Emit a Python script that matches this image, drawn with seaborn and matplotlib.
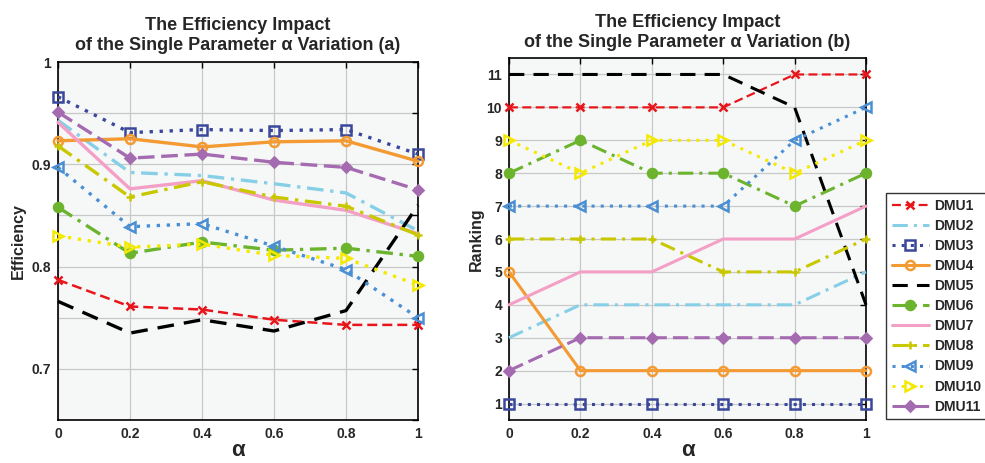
import matplotlib
matplotlib.use("Agg")
import matplotlib.pyplot as plt
import seaborn as sns
import pandas as pd

alpha = [0, 0.2, 0.4, 0.6, 0.8, 1.0]
dmus = ["DMU1", "DMU2", "DMU3", "DMU4", "DMU5", "DMU6",
        "DMU7", "DMU8", "DMU9", "DMU10", "DMU11"]

# efficiency values (panel a)
eff_dmu1 = [0.787, 0.761, 0.758, 0.748, 0.743, 0.743]
eff_dmu2 = [0.943, 0.892, 0.889, 0.881, 0.872, 0.835]
eff_dmu3 = [0.966, 0.931, 0.934, 0.933, 0.934, 0.910]
eff_dmu4 = [0.923, 0.925, 0.917, 0.922, 0.923, 0.903]
eff_dmu5 = [0.766, 0.735, 0.748, 0.737, 0.757, 0.860]
eff_dmu6 = [0.858, 0.813, 0.824, 0.816, 0.818, 0.810]
eff_dmu7 = [0.941, 0.876, 0.884, 0.865, 0.855, 0.832]
eff_dmu8 = [0.918, 0.868, 0.883, 0.868, 0.859, 0.831]
eff_dmu9 = [0.897, 0.839, 0.842, 0.820, 0.797, 0.750]
eff_dmu10 = [0.830, 0.819, 0.822, 0.811, 0.808, 0.782]
eff_dmu11 = [0.951, 0.906, 0.910, 0.902, 0.897, 0.875]

# rankings (panel b)
rank_dmu1 = [10, 10, 10, 10, 11, 11]
rank_dmu2 = [3, 4, 4, 4, 4, 5]
rank_dmu3 = [1, 1, 1, 1, 1, 1]
rank_dmu4 = [5, 2, 2, 2, 2, 2]
rank_dmu5 = [11, 11, 11, 11, 10, 4]
rank_dmu6 = [8, 9, 8, 8, 7, 8]
rank_dmu7 = [4, 5, 5, 6, 6, 7]
rank_dmu8 = [6, 6, 6, 5, 5, 6]
rank_dmu9 = [7, 7, 7, 7, 9, 10]
rank_dmu10 = [9, 8, 9, 9, 8, 9]
rank_dmu11 = [2, 3, 3, 3, 3, 3]

eff = [eff_dmu1, eff_dmu2, eff_dmu3, eff_dmu4, eff_dmu5, eff_dmu6,
       eff_dmu7, eff_dmu8, eff_dmu9, eff_dmu10, eff_dmu11]
rank = [rank_dmu1, rank_dmu2, rank_dmu3, rank_dmu4, rank_dmu5, rank_dmu6,
        rank_dmu7, rank_dmu8, rank_dmu9, rank_dmu10, rank_dmu11]

# style per DMU: color, linestyle, marker, filled
styles = {
    "DMU1": ("#e8151b", (0, (4, 2)), "x", True),
    "DMU2": ("#87cfe6", (0, (5, 2, 1, 2)), None, True),
    "DMU3": ("#3a479b", (0, (1, 2)), "s", False),
    "DMU4": ("#f39a33", "-", "o", False),
    "DMU5": ("#000000", (0, (5, 3)), None, True),
    "DMU6": ("#6cb42e", (0, (5, 2, 1, 2)), "o", True),
    "DMU7": ("#f49fc6", "-", None, True),
    "DMU8": ("#c9c800", (0, (5, 2, 1, 2)), "+", True),
    "DMU9": ("#4a8fd3", (0, (1, 2)), "<", False),
    "DMU10": ("#f4e900", (0, (1, 2)), ">", False),
    "DMU11": ("#a56bb0", (0, (5, 2)), "D", True),
}

sns.set_style("whitegrid")
plt.rcParams["font.family"] = ["Liberation Sans", "DejaVu Sans"]
plt.rcParams["font.weight"] = "bold"

fig = plt.figure(figsize=(9.85, 4.63), dpi=100)
ax1 = fig.add_axes([0.0589, 0.0929, 0.3655, 0.7731])
ax2 = fig.add_axes([0.5168, 0.0929, 0.3624, 0.7818])


def draw(ax, values, lw):
    for name, vals in zip(dmus, values):
        c, ls, mk, filled = styles[name]
        df = pd.DataFrame({"alpha": alpha, "v": vals})
        if mk in ("x", "+"):
            ms = 6
        elif mk == "D":
            ms = 5.5
        else:
            ms = 6.5
        sns.lineplot(data=df, x="alpha", y="v", ax=ax, color=c, linestyle=ls,
                     linewidth=lw if name != "DMU1" else lw - 0.6,
                     marker=mk, markersize=ms,
                     markeredgewidth=1.8, markeredgecolor=c,
                     markerfacecolor=c if filled else "none",
                     label=name, clip_on=False, zorder=3)


draw(ax1, eff, 2.4)
draw(ax2, rank, 2.2)

for ax in (ax1, ax2):
    ax.set_facecolor("#f6f8f8")
    ax.set_xlim(0, 1)
    ax.set_xticks(alpha)
    ax.set_xticklabels(["0", "0.2", "0.4", "0.6", "0.8", "1"])
    ax.grid(True, color="#c8c8c8", linewidth=0.9)
    ax.tick_params(direction="in", length=4, width=1, labelsize=10,
                   top=True, right=True, pad=5, color="black")
    for s in ax.spines.values():
        s.set_color("black")
        s.set_linewidth(1.2)
    ax.set_xlabel("α", fontsize=16, fontweight="bold", labelpad=-1)
    if ax.get_legend() is not None:
        ax.get_legend().remove()

ax1.set_ylim(0.65, 1.0)
ax1.set_yticks([0.65, 0.7, 0.75, 0.8, 0.85, 0.9, 0.95, 1.0])
ax1.set_yticklabels(["", "0.7", "", "0.8", "", "0.9", "", "1"])
ax1.set_ylabel("Efficiency", fontsize=11.5, fontweight="bold", labelpad=4)
ax1.set_title("The Efficiency Impact\nof the Single Parameter α Variation (a)",
              fontsize=13, fontweight="bold", pad=9)

ax2.set_ylim(0.5, 11.5)
ax2.set_yticks(range(1, 12))
ax2.set_ylabel("Ranking", fontsize=11.5, fontweight="bold", labelpad=2)
ax2.set_title("The Efficiency Impact\nof the Single Parameter α Variation (b)",
              fontsize=13, fontweight="bold", pad=8.2)

handles, labels = ax2.get_legend_handles_labels()
leg = fig.legend(handles, labels, loc="upper left",
                 bbox_to_anchor=(886 / 985, 1 - 193 / 463),
                 fontsize=10, frameon=True, fancybox=False,
                 edgecolor="black", labelspacing=0.44, handlelength=2.7,
                 handletextpad=0.35, borderpad=0.4, borderaxespad=0)
leg.get_frame().set_linewidth(1.0)
for t in leg.get_texts():
    t.set_fontweight("bold")

fig.savefig("out.png", dpi=100)
